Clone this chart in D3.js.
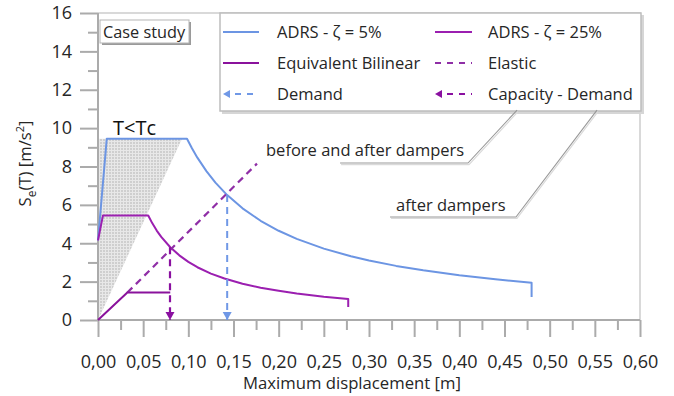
<!DOCTYPE html>
<html>
<head>
<meta charset="utf-8">
<script src="https://cdn.jsdelivr.net/npm/d3@7"></script>
<style>
  html, body { margin: 0; padding: 0; background: #fff; }
  svg { display: block; font-family: "Open Sans", sans-serif; }
</style>
</head>
<body>
<svg id="chart" width="674" height="396"></svg>
<script>
// ---- data: spectral displacement Sd [m] vs spectral acceleration Sa [m/s²] ----
const adrs5 = [
  [0, 4.15], [0.0097, 9.45], [0.0985, 9.45], [0.104, 8.95], [0.11, 8.46], [0.12, 7.76],
  [0.13, 7.16], [0.143, 6.51], [0.16, 5.82], [0.18, 5.17], [0.20, 4.65], [0.22, 4.23],
  [0.25, 3.72], [0.28, 3.32], [0.30, 3.10], [0.33, 2.82], [0.36, 2.59], [0.40, 2.33],
  [0.44, 2.12], [0.48, 1.94], [0.48, 1.20]
];
const adrs25 = [
  [0, 4.15], [0.0055, 5.45], [0.0556, 5.45], [0.06, 5.05], [0.065, 4.66], [0.07, 4.33],
  [0.08, 3.79], [0.09, 3.37], [0.10, 3.03], [0.11, 2.75], [0.125, 2.42], [0.14, 2.16],
  [0.16, 1.89], [0.18, 1.68], [0.20, 1.52], [0.22, 1.38], [0.25, 1.21], [0.277, 1.09],
  [0.277, 0.68]
];
const bilinear = [[0, 0], [0.0325, 1.43], [0.080, 1.43]];
const elastic = [[0.0325, 1.43], [0.176, 8.15]];
const demand = [[0.143, 6.51], [0.143, 0]];
const capacityDemand = [[0.0797, 3.79], [0.0797, 0]];
const constAccZone = [[0, 0], [0, 9.45], [0.093, 9.45]];

const xMajor = [0, 0.05, 0.10, 0.15, 0.20, 0.25, 0.30, 0.35, 0.40, 0.45, 0.50, 0.55, 0.60];
const xMinor = [0.025, 0.075, 0.125, 0.175, 0.225, 0.275, 0.325, 0.375, 0.425, 0.475, 0.525, 0.575];
const yMajor = [0, 2, 4, 6, 8, 10, 12, 14, 16];
const yMinor = [1, 3, 5, 7, 9, 11, 13, 15];

const legendItems = [
  { key: "adrs5",  label: "ADRS - ζ = 5%" },
  { key: "adrs25", label: "ADRS - ζ = 25%" },
  { key: "bilin",  label: "Equivalent Bilinear" },
  { key: "elast",  label: "Elastic" },
  { key: "demand", label: "Demand" },
  { key: "capdem", label: "Capacity - Demand" }
];

// annotation anchors in data units
const noteBoth  = { text: "before and after dampers", at: [0.186, 8.86],
                    leader: [[0.268, 8.18], [0.4096, 8.18], [0.4639, 10.94]] };
const noteAfter = { text: "after dampers", at: [0.330, 5.99],
                    leader: [[0.3233, 5.37], [0.4627, 5.37], [0.5524, 10.94]] };
const zoneLabel = { text: "T<Tc", at: [0.0166, 9.62] };

// ---- styles ----
const style = {
  adrs5:  { color: "#6c95e3", dash: null },
  adrs25: { color: "#9b1fb0", dash: null },
  bilin:  { color: "#8a129c", dash: null },
  elast:  { color: "#8f2ea6", dash: "7,5" },
  demand: { color: "#7098e6", dash: "7,5" },
  capdem: { color: "#8a10a0", dash: "7,5" }
};
const axisColor = "#ababab";
const textColor = "#262626";

const svg = d3.select("#chart");
const x = d3.scaleLinear().domain([0, 0.6]).range([98, 640]);
const y = d3.scaleLinear().domain([0, 16]).range([320, 13]);

// hatch pattern for the constant-acceleration zone
const defs = svg.append("defs");
const pat = defs.append("pattern").attr("id", "grid")
  .attr("width", 3).attr("height", 3).attr("patternUnits", "userSpaceOnUse");
pat.append("rect").attr("width", 3).attr("height", 3).attr("fill", "#cfcfcf");
pat.append("path").attr("d", "M0 0.5H3M0.5 0V3").attr("stroke", "#e8e8e8").attr("stroke-width", 1);

// plot frame (top and right)
svg.append("path")
  .attr("d", `M${x(0)},${y(16)}H${x(0.6)}V${y(0)}`)
  .attr("fill", "none").attr("stroke", "#cdcdcd").attr("stroke-width", 1.5);

const line = d3.line().x(d => x(d[0])).y(d => y(d[1]));

svg.append("path").datum(constAccZone)
  .attr("d", d => line(d) + "Z")
  .attr("fill", "url(#grid)");

// axes
function styleAxis(g) {
  g.select(".domain").remove();
  g.selectAll(".tick line").attr("stroke", axisColor).attr("stroke-width", 2);
  g.selectAll(".tick text").attr("fill", textColor)
    .style("font-size", "18px").style("font-family", "'Open Sans', sans-serif");
}
const fmt = d => d3.format(".2f")(d).replace(".", ",");

svg.append("g").attr("transform", `translate(0,${y(0)})`)
  .call(d3.axisBottom(x).tickValues(xMinor).tickSize(10).tickFormat(""))
  .call(styleAxis);
svg.append("g").attr("transform", `translate(0,${y(0)})`)
  .call(d3.axisBottom(x).tickValues(xMajor).tickSize(17).tickPadding(18).tickFormat(fmt))
  .call(styleAxis);
svg.append("g").attr("transform", `translate(${x(0)},0)`)
  .call(d3.axisLeft(y).tickValues(yMinor).tickSize(10).tickFormat(""))
  .call(styleAxis);
svg.append("g").attr("transform", `translate(${x(0)},0)`)
  .call(d3.axisLeft(y).tickValues(yMajor).tickSize(18).tickPadding(8).tickFormat(d3.format("d")))
  .call(styleAxis);

svg.append("line")
  .attr("x1", x(0)).attr("x2", x(0.6)).attr("y1", y(0)).attr("y2", y(0))
  .attr("stroke", axisColor).attr("stroke-width", 2);
svg.append("line")
  .attr("x1", x(0)).attr("x2", x(0)).attr("y1", y(0)).attr("y2", y(16))
  .attr("stroke", axisColor).attr("stroke-width", 2);

// axis titles
svg.append("text")
  .attr("x", 352).attr("y", 389)
  .attr("text-anchor", "middle").attr("fill", textColor)
  .style("font-size", "16.7px")
  .text("Maximum displacement [m]");

const yt = svg.append("text")
  .attr("transform", `translate(31,${(y(0) + y(16)) / 2 - 3}) rotate(-90)`)
  .attr("text-anchor", "middle").attr("fill", textColor)
  .style("font-size", "16.7px");
yt.append("tspan").text("S");
yt.append("tspan").attr("dy", 5).style("font-size", "12px").text("e");
yt.append("tspan").attr("dy", -5).text("(T) [m/s");
yt.append("tspan").attr("dy", -7).style("font-size", "11px").text("2");
yt.append("tspan").attr("dy", 7).text("]");

// series
function drawSeries(data, key, width) {
  svg.append("path").datum(data)
    .attr("d", line)
    .attr("fill", "none")
    .attr("stroke", style[key].color)
    .attr("stroke-width", width)
    .attr("stroke-dasharray", style[key].dash)
    .attr("stroke-linejoin", "round");
}
drawSeries(adrs5, "adrs5", 2);
drawSeries(adrs25, "adrs25", 2);
drawSeries(elastic, "elast", 2.2);
drawSeries(bilinear, "bilin", 2);
drawSeries(demand, "demand", 2);
drawSeries(capacityDemand, "capdem", 2.2);

// arrow heads at the performance points
function arrowDown(pt, key) {
  const px = x(pt[0]), py = y(pt[1]);
  svg.append("path")
    .attr("d", `M${px - 4.5},${py - 8}L${px + 4.5},${py - 8}L${px},${py}Z`)
    .attr("fill", style[key].color);
}
arrowDown(demand[1], "demand");
arrowDown(capacityDemand[1], "capdem");

// zone label
svg.append("text")
  .attr("x", x(zoneLabel.at[0])).attr("y", y(zoneLabel.at[1]))
  .attr("fill", "#111").style("font-size", "20px")
  .text(zoneLabel.text);

// case study tag
const cs = svg.append("g").attr("transform", `translate(${x(0) + 2},20)`);
cs.append("rect").attr("x", 2).attr("y", 2).attr("width", 89).attr("height", 23).attr("fill", "#9a9a9a");
cs.append("rect").attr("x", 0).attr("y", 0).attr("width", 89).attr("height", 23)
  .attr("fill", "#fff").attr("stroke", "#b5b5b5").attr("stroke-width", 1);
cs.append("text").attr("x", 3).attr("y", 17.5).attr("fill", textColor)
  .style("font-size", "16.3px").text("Case study");

// legend
const lg = svg.append("g");
lg.append("rect").attr("x", 222).attr("y", 15).attr("width", 422).attr("height", 99).attr("fill", "#d6d6d6");
lg.append("rect").attr("x", 220).attr("y", 13).attr("width", 421).attr("height", 98)
  .attr("fill", "#fff").attr("stroke", "#bdbdbd").attr("stroke-width", 1.5);

const colX = [{ s: 223, e: 259, t: 277 }, { s: 435, e: 472, t: 488 }];
const rowY = [32, 63, 94];
legendItems.forEach((it, i) => {
  const c = colX[i % 2], r = rowY[Math.floor(i / 2)];
  const st = style[it.key];
  const g = lg.append("g");
  if (it.key === "demand" || it.key === "capdem") {
    g.append("path").attr("d", `M${c.s},${r}L${c.s + 7},${r - 4}L${c.s + 7},${r + 4}Z`).attr("fill", st.color);
    g.append("line").attr("x1", c.s + 12).attr("x2", c.e).attr("y1", r).attr("y2", r)
      .attr("stroke", st.color).attr("stroke-width", 2).attr("stroke-dasharray", "6,6");
  } else {
    g.append("line").attr("x1", c.s).attr("x2", c.e).attr("y1", r).attr("y2", r)
      .attr("stroke", st.color).attr("stroke-width", 2)
      .attr("stroke-dasharray", st.dash ? "6,6" : null);
  }
  g.append("text").attr("x", c.t).attr("y", r).attr("dy", "0.35em")
    .attr("fill", textColor).style("font-size", "16.5px").text(it.label);
});

// callouts
[noteBoth, noteAfter].forEach(n => {
  svg.append("path").datum(n.leader)
    .attr("d", d => line(d))
    .attr("transform", "translate(1,1.5)")
    .attr("fill", "none").attr("stroke", "#dadada").attr("stroke-width", 1.2);
  svg.append("path").datum(n.leader)
    .attr("d", d => line(d))
    .attr("fill", "none").attr("stroke", "#999").attr("stroke-width", 1.1);
  svg.append("text")
    .attr("x", x(n.at[0])).attr("y", y(n.at[1])).attr("dy", "0.35em")
    .attr("fill", textColor).style("font-size", "16.5px")
    .text(n.text);
});
</script>
</body>
</html>
